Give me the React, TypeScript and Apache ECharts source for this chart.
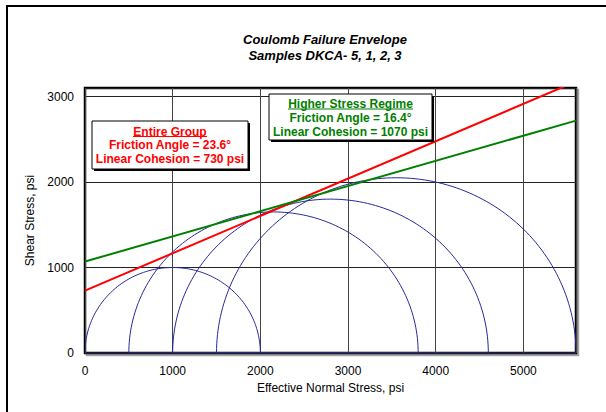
import React, { useEffect, useRef } from "react";
import * as echarts from "echarts";

// Mohr circles: minor and major principal effective stresses (psi)
const sigma3 = [0, 500, 1000, 1500];
const sigma1 = [2000, 3800, 4600, 5600];

// Coulomb envelopes
const envelopeNames = ["Entire Group", "Higher Stress Regime"];
const frictionAngles = [23.6, 16.4]; // degrees
const cohesions = [730, 1070]; // psi
const envelopeColors = ["#ff0000", "#008000"];

// Axes
const xMin = 0;
const xMax = 5600;
const xInterval = 1000;
const yMin = 0;
const yMax = 3100;
const yInterval = 1000;

const titleLines = ["Coulomb Failure Envelope", "Samples DKCA- 5, 1, 2, 3"];
const xName = "Effective Normal Stress, psi";
const yName = "Shear Stress, psi";

const FONT = "'Liberation Sans', Arial, sans-serif";

function annotationBox(
  x: number,
  y: number,
  w: number,
  h: number,
  color: string,
  lines: string[],
  lineYs: number[],
  underlineW: number,
  underlineDy: number
) {
  const cx = x + w / 2;
  return [
    {
      type: "rect",
      z: 100,
      shape: { x: x + 2, y: y + 2, width: w, height: h },
      style: { fill: "#000" },
      silent: true,
    },
    {
      type: "rect",
      z: 101,
      shape: { x, y, width: w, height: h },
      style: { fill: "#fff", stroke: "#000", lineWidth: 1 },
      silent: true,
    },
    ...lines.map((t, i) => ({
      type: "text",
      z: 102,
      x: cx,
      y: lineYs[i],
      style: {
        text: t,
        fill: color,
        font: `bold 12px ${FONT}`,
        textAlign: "center",
        textVerticalAlign: "middle",
      },
      silent: true,
    })),
    {
      type: "line",
      z: 102,
      shape: {
        x1: cx - underlineW / 2,
        y1: lineYs[0] + underlineDy,
        x2: cx + underlineW / 2,
        y2: lineYs[0] + underlineDy,
      },
      style: { stroke: color, lineWidth: 1.2 },
      silent: true,
    },
  ];
}

export default function App() {
  const ref = useRef<HTMLDivElement>(null);

  useEffect(() => {
    if (!ref.current) return;
    const chart = echarts.init(ref.current, null, { renderer: "svg" });

    const circleData = sigma3.map((s3, i) => [s3, sigma1[i]]);

    const envelopeSeries = cohesions.map((c, i) => {
      const slope = Math.tan((frictionAngles[i] * Math.PI) / 180);
      return {
        name: envelopeNames[i],
        type: "line",
        data: [
          [xMin, c],
          [xMax, c + slope * xMax],
        ],
        showSymbol: false,
        symbol: "none",
        clip: true,
        lineStyle: { color: envelopeColors[i], width: 2 },
        z: 5,
      };
    });

    const option: any = {
      animation: false,
      backgroundColor: "#fff",
      grid: {
        left: 85,
        top: 88,
        right: 30,
        bottom: 59,
        show: true,
        borderColor: "#000",
        borderWidth: 2.5,
        backgroundColor: "#fff",
        shadowColor: "rgba(0,0,0,0.35)",
        shadowOffsetX: 2,
        shadowOffsetY: 2,
        shadowBlur: 0,
      },
      xAxis: {
        type: "value",
        min: xMin,
        max: xMax,
        interval: xInterval,
        name: xName,
        nameLocation: "middle",
        nameGap: 29,
        nameTextStyle: { fontFamily: FONT, fontSize: 12, color: "#000" },
        axisLine: { show: false },
        axisTick: { show: false },
        axisLabel: {
          fontFamily: FONT,
          fontSize: 12,
          color: "#000",
          margin: 12,
          showMaxLabel: false,
          formatter: (v: number) => String(v),
        },
        splitLine: { show: true, lineStyle: { color: "#444", width: 1 } },
      },
      yAxis: {
        type: "value",
        min: yMin,
        max: yMax,
        interval: yInterval,
        name: yName,
        nameLocation: "middle",
        nameGap: 43,
        nameRotate: 90,
        nameTextStyle: { fontFamily: FONT, fontSize: 12, color: "#000" },
        axisLine: { show: false },
        axisTick: { show: false },
        axisLabel: {
          fontFamily: FONT,
          fontSize: 12,
          color: "#000",
          margin: 11,
          showMaxLabel: false,
          formatter: (v: number) => String(v),
        },
        splitLine: { show: true, lineStyle: { color: "#222", width: 1 } },
      },
      series: [
        {
          type: "custom",
          name: "Mohr circles",
          data: circleData,
          clip: true,
          z: 3,
          encode: { x: 0 },
          renderItem: (params: any, api: any) => {
            const s3 = api.value(0);
            const s1 = api.value(1);
            const c = (s1 + s3) / 2;
            const r = (s1 - s3) / 2;
            const pts: number[][] = [];
            for (let a = 0; a <= 180; a += 1.5) {
              const t = (a * Math.PI) / 180;
              pts.push(api.coord([c + r * Math.cos(t), r * Math.sin(t)]));
            }
            pts.push(api.coord([s3, 0]));
            pts.push(api.coord([s1, 0]));
            return {
              type: "polyline",
              shape: { points: pts },
              style: { stroke: "#28289a", lineWidth: 1, fill: "none" },
            };
          },
        },
        ...envelopeSeries,
      ],
      graphic: [
        {
          type: "rect",
          z: 200,
          shape: { x: 7, y: 6, width: 700, height: 500 },
          style: { fill: "none", stroke: "#000", lineWidth: 2 },
          silent: true,
        },
        ...titleLines.map((t, i) => ({
          type: "text",
          z: 150,
          x: 325,
          y: 39.5 + i * 15.6,
          style: {
            text: t,
            fill: "#000",
            font: `italic bold 13px ${FONT}`,
            textAlign: "center",
            textVerticalAlign: "middle",
          },
          silent: true,
        })),
        ...annotationBox(
          92,
          121,
          156,
          48,
          "#ff0000",
          [
            envelopeNames[0],
            `Friction Angle = ${frictionAngles[0]}°`,
            `Linear Cohesion = ${cohesions[0]} psi`,
          ],
          [131.5, 145, 158.5],
          74,
          5
        ),
        ...annotationBox(
          269,
          94,
          163,
          46,
          "#008000",
          [
            envelopeNames[1],
            `Friction Angle = ${frictionAngles[1]}°`,
            `Linear Cohesion = ${cohesions[1]} psi`,
          ],
          [104, 118, 131.5],
          125,
          5
        ),
      ],
    };

    chart.setOption(option);
    return () => chart.dispose();
  }, []);

  return (
    <div
      ref={ref}
      style={{
        position: "fixed",
        left: 0,
        top: 0,
        width: 606,
        height: 412,
        background: "#fff",
      }}
    />
  );
}
